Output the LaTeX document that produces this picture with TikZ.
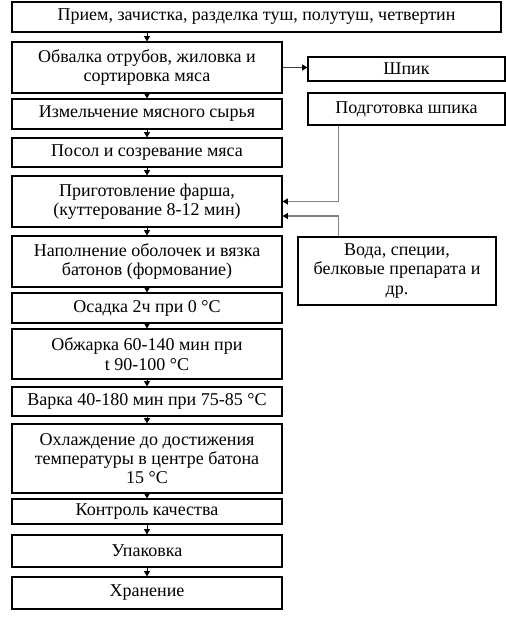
\documentclass[tikz,border=0pt]{standalone}
\usepackage{fontspec}
\setmainfont{Liberation Serif}
\usetikzlibrary{arrows.meta,calc}
\begin{document}
\begin{tikzpicture}[x=0.75pt,y=-0.75pt,
  box/.style={draw=black,line width=0.9pt,rectangle,align=center,inner sep=0pt,
    font=\fontsize{13.5}{14.5}\selectfont},
  lbox/.style={box,minimum width=270*0.75pt},
  flow/.style={draw=black,line width=0.7pt,-{Triangle[width=4.5pt,length=4pt]}},
  side/.style={draw=gray,line width=0.9pt,-{Triangle[width=4.5pt,length=4pt,fill=black,color=black]}}]
\useasboundingbox (0,0) rectangle (506,621);
\node[box,minimum width=489*0.75pt,minimum height=30*0.75pt] (b1) at (256.5,17) {Прием, зачистка, разделка туш, полутуш, четвертин};
\node[lbox,minimum height=51*0.75pt] (b2) at (147,67.5) {Обвалка отрубов, жиловка и\\сортировка мяса};
\node[box,minimum width=197*0.75pt,minimum height=24*0.75pt] (shpik) at (406.5,69) {Шпик};
\node[box,minimum width=197*0.75pt,minimum height=32*0.75pt] (podg) at (406.5,109) {Подготовка шпика};
\node[lbox,minimum height=30*0.75pt] (b3) at (147,114) {Измельчение мясного сырья};
\node[lbox,minimum height=29*0.75pt] (b4) at (147,152.5) {Посол и созревание мяса};
\node[lbox,minimum height=51*0.75pt] (b5) at (147,201.5) {Приготовление фарша,\\(куттерование 8-12 мин)};
\node[lbox,minimum height=51*0.75pt] (b6) at (147,261.5) {Наполнение оболочек и вязка\\батонов (формование)};
\node[box,minimum width=198*0.75pt,minimum height=68*0.75pt] (voda) at (397,271) {Вода, специи,\\белковые препарата и\\др.};
\node[lbox,minimum height=30*0.75pt] (b7) at (147,308) {Осадка 2ч при 0 °C};
\node[lbox,minimum height=50*0.75pt] (b8) at (147,354) {Обжарка 60-140 мин при\\t 90-100 °C};
\node[lbox,minimum height=29*0.75pt] (b9) at (147,401.5) {Варка 40-180 мин при 75-85 °C};
\node[lbox,minimum height=69*0.75pt] (b10) at (147,458.5) {Охлаждение до достижения\\температуры в центре батона\\15 °C};
\node[lbox,minimum height=25*0.75pt] (b11) at (147,511.5) {Контроль качества};
\node[lbox,minimum height=32*0.75pt] (b12) at (147,551) {Упаковка};
\node[lbox,minimum height=32*0.75pt] (b13) at (147,593) {Хранение};
\draw[flow] (b1.south -| b2.north) -- (b2.north);
\foreach \a/\b in {b2/b3,b3/b4,b4/b5,b5/b6,b6/b7,b7/b8,b8/b9,b9/b10,b10/b11,b11/b12,b12/b13}
  \draw[flow] (\a.south) -- (\b.north);
\draw[side,draw=darkgray] (b2.east) -- (shpik.west |- b2.east);
\draw[side] ($(podg.south west)+(31,0)$) |- (b5.east);
\draw[side] ($(voda.north west)+(41,0)$) |- ($(b5.east)+(0,14.5)$);
\end{tikzpicture}
\end{document}
